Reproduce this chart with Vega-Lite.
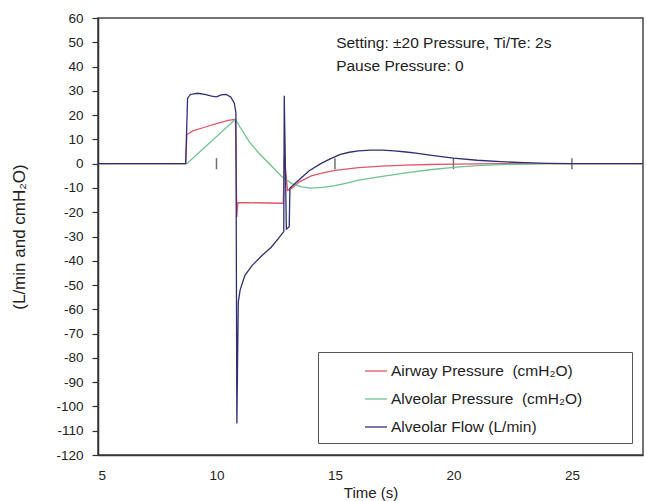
{
  "$schema": "https://vega.github.io/schema/vega-lite/v6.json",
  "width": 545,
  "height": 437,
  "autosize": "none",
  "padding": {"left": 98, "top": 18, "right": 4, "bottom": 46},
  "background": "white",
  "config": {
    "font": "Liberation Sans",
    "view": {"stroke": "#444", "strokeWidth": 1.5},
    "axis": {"labelColor": "#222", "titleColor": "#222", "labelFontSize": 13.5, "titleFontSize": 15, "titleFontWeight": "normal", "grid": false, "domainColor": "#333", "domainWidth": 1.5, "tickColor": "#333", "tickWidth": 1.2, "labelOverlap": false}
  },
  "datasets": {
    "series": [
      {"t": 5, "v": 0, "s": "Airway Pressure  (cmH₂O)"},
      {"t": 8.7, "v": 0, "s": "Airway Pressure  (cmH₂O)"},
      {"t": 8.75, "v": 12, "s": "Airway Pressure  (cmH₂O)"},
      {"t": 9.0, "v": 13.5, "s": "Airway Pressure  (cmH₂O)"},
      {"t": 9.5, "v": 15, "s": "Airway Pressure  (cmH₂O)"},
      {"t": 10.0, "v": 16.5, "s": "Airway Pressure  (cmH₂O)"},
      {"t": 10.5, "v": 17.8, "s": "Airway Pressure  (cmH₂O)"},
      {"t": 10.8, "v": 18.3, "s": "Airway Pressure  (cmH₂O)"},
      {"t": 10.86, "v": -22, "s": "Airway Pressure  (cmH₂O)"},
      {"t": 10.9, "v": -16, "s": "Airway Pressure  (cmH₂O)"},
      {"t": 12.82, "v": -16.3, "s": "Airway Pressure  (cmH₂O)"},
      {"t": 12.86, "v": 3, "s": "Airway Pressure  (cmH₂O)"},
      {"t": 13.0, "v": -11, "s": "Airway Pressure  (cmH₂O)"},
      {"t": 13.2, "v": -10, "s": "Airway Pressure  (cmH₂O)"},
      {"t": 13.5, "v": -7.5, "s": "Airway Pressure  (cmH₂O)"},
      {"t": 14.0, "v": -5, "s": "Airway Pressure  (cmH₂O)"},
      {"t": 14.5, "v": -3.8, "s": "Airway Pressure  (cmH₂O)"},
      {"t": 15.0, "v": -2.8, "s": "Airway Pressure  (cmH₂O)"},
      {"t": 16.0, "v": -1.6, "s": "Airway Pressure  (cmH₂O)"},
      {"t": 17.0, "v": -1, "s": "Airway Pressure  (cmH₂O)"},
      {"t": 18.0, "v": -0.6, "s": "Airway Pressure  (cmH₂O)"},
      {"t": 19.0, "v": -0.35, "s": "Airway Pressure  (cmH₂O)"},
      {"t": 20.0, "v": -0.2, "s": "Airway Pressure  (cmH₂O)"},
      {"t": 21.0, "v": -0.1, "s": "Airway Pressure  (cmH₂O)"},
      {"t": 22.0, "v": 0, "s": "Airway Pressure  (cmH₂O)"},
      {"t": 28.0, "v": 0, "s": "Airway Pressure  (cmH₂O)"},

      {"t": 5, "v": 0, "s": "Alveolar Pressure  (cmH₂O)"},
      {"t": 8.75, "v": 0, "s": "Alveolar Pressure  (cmH₂O)"},
      {"t": 10.8, "v": 18.3, "s": "Alveolar Pressure  (cmH₂O)"},
      {"t": 11.0, "v": 15, "s": "Alveolar Pressure  (cmH₂O)"},
      {"t": 11.4, "v": 8.8, "s": "Alveolar Pressure  (cmH₂O)"},
      {"t": 11.8, "v": 4.2, "s": "Alveolar Pressure  (cmH₂O)"},
      {"t": 12.2, "v": 0.3, "s": "Alveolar Pressure  (cmH₂O)"},
      {"t": 12.75, "v": -5.3, "s": "Alveolar Pressure  (cmH₂O)"},
      {"t": 13.2, "v": -8.3, "s": "Alveolar Pressure  (cmH₂O)"},
      {"t": 13.6, "v": -9.6, "s": "Alveolar Pressure  (cmH₂O)"},
      {"t": 14.0, "v": -10.1, "s": "Alveolar Pressure  (cmH₂O)"},
      {"t": 14.5, "v": -9.8, "s": "Alveolar Pressure  (cmH₂O)"},
      {"t": 15.0, "v": -9.0, "s": "Alveolar Pressure  (cmH₂O)"},
      {"t": 15.5, "v": -8.0, "s": "Alveolar Pressure  (cmH₂O)"},
      {"t": 16.0, "v": -6.8, "s": "Alveolar Pressure  (cmH₂O)"},
      {"t": 17.0, "v": -5.2, "s": "Alveolar Pressure  (cmH₂O)"},
      {"t": 18.0, "v": -3.8, "s": "Alveolar Pressure  (cmH₂O)"},
      {"t": 19.0, "v": -2.5, "s": "Alveolar Pressure  (cmH₂O)"},
      {"t": 20.0, "v": -1.5, "s": "Alveolar Pressure  (cmH₂O)"},
      {"t": 21.0, "v": -0.8, "s": "Alveolar Pressure  (cmH₂O)"},
      {"t": 22.0, "v": -0.4, "s": "Alveolar Pressure  (cmH₂O)"},
      {"t": 23.0, "v": -0.2, "s": "Alveolar Pressure  (cmH₂O)"},
      {"t": 24.0, "v": 0, "s": "Alveolar Pressure  (cmH₂O)"},
      {"t": 28.0, "v": 0, "s": "Alveolar Pressure  (cmH₂O)"},

      {"t": 5, "v": 0, "s": "Alveolar Flow (L/min)"},
      {"t": 8.7, "v": 0, "s": "Alveolar Flow (L/min)"},
      {"t": 8.78, "v": 27, "s": "Alveolar Flow (L/min)"},
      {"t": 8.9, "v": 28.5, "s": "Alveolar Flow (L/min)"},
      {"t": 9.2, "v": 29, "s": "Alveolar Flow (L/min)"},
      {"t": 9.5, "v": 28.5, "s": "Alveolar Flow (L/min)"},
      {"t": 9.8, "v": 27.8, "s": "Alveolar Flow (L/min)"},
      {"t": 10.0, "v": 27.5, "s": "Alveolar Flow (L/min)"},
      {"t": 10.2, "v": 28.3, "s": "Alveolar Flow (L/min)"},
      {"t": 10.4, "v": 28.5, "s": "Alveolar Flow (L/min)"},
      {"t": 10.6, "v": 27.5, "s": "Alveolar Flow (L/min)"},
      {"t": 10.75, "v": 25, "s": "Alveolar Flow (L/min)"},
      {"t": 10.82, "v": 21, "s": "Alveolar Flow (L/min)"},
      {"t": 10.86, "v": -107, "s": "Alveolar Flow (L/min)"},
      {"t": 10.92, "v": -57, "s": "Alveolar Flow (L/min)"},
      {"t": 11.0, "v": -52, "s": "Alveolar Flow (L/min)"},
      {"t": 11.2, "v": -46, "s": "Alveolar Flow (L/min)"},
      {"t": 11.5, "v": -42, "s": "Alveolar Flow (L/min)"},
      {"t": 11.9, "v": -38, "s": "Alveolar Flow (L/min)"},
      {"t": 12.3, "v": -34.5, "s": "Alveolar Flow (L/min)"},
      {"t": 12.6, "v": -31, "s": "Alveolar Flow (L/min)"},
      {"t": 12.84, "v": -28, "s": "Alveolar Flow (L/min)"},
      {"t": 12.86, "v": 28, "s": "Alveolar Flow (L/min)"},
      {"t": 12.95, "v": -27, "s": "Alveolar Flow (L/min)"},
      {"t": 13.07, "v": -26, "s": "Alveolar Flow (L/min)"},
      {"t": 13.1, "v": -10, "s": "Alveolar Flow (L/min)"},
      {"t": 13.5, "v": -6.5, "s": "Alveolar Flow (L/min)"},
      {"t": 13.9, "v": -3, "s": "Alveolar Flow (L/min)"},
      {"t": 14.4, "v": 0, "s": "Alveolar Flow (L/min)"},
      {"t": 14.8, "v": 2, "s": "Alveolar Flow (L/min)"},
      {"t": 15.2, "v": 3.7, "s": "Alveolar Flow (L/min)"},
      {"t": 15.6, "v": 4.7, "s": "Alveolar Flow (L/min)"},
      {"t": 16.0, "v": 5.3, "s": "Alveolar Flow (L/min)"},
      {"t": 16.5, "v": 5.6, "s": "Alveolar Flow (L/min)"},
      {"t": 17.0, "v": 5.6, "s": "Alveolar Flow (L/min)"},
      {"t": 17.5, "v": 5.3, "s": "Alveolar Flow (L/min)"},
      {"t": 18.0, "v": 4.8, "s": "Alveolar Flow (L/min)"},
      {"t": 18.5, "v": 4.2, "s": "Alveolar Flow (L/min)"},
      {"t": 19.0, "v": 3.5, "s": "Alveolar Flow (L/min)"},
      {"t": 19.5, "v": 2.9, "s": "Alveolar Flow (L/min)"},
      {"t": 20.0, "v": 2.3, "s": "Alveolar Flow (L/min)"},
      {"t": 21.0, "v": 1.4, "s": "Alveolar Flow (L/min)"},
      {"t": 22.0, "v": 0.8, "s": "Alveolar Flow (L/min)"},
      {"t": 23.0, "v": 0.4, "s": "Alveolar Flow (L/min)"},
      {"t": 24.0, "v": 0.15, "s": "Alveolar Flow (L/min)"},
      {"t": 25.0, "v": 0.05, "s": "Alveolar Flow (L/min)"},
      {"t": 26.0, "v": 0, "s": "Alveolar Flow (L/min)"},
      {"t": 28.0, "v": 0, "s": "Alveolar Flow (L/min)"}
    ],
    "zeroTicks": [{"t": 10}, {"t": 15}, {"t": 20}, {"t": 25}],
    "notes": [
      {"t": 15.05, "v": 49.5, "label": "Setting: ±20 Pressure, Ti/Te: 2s"},
      {"t": 15.05, "v": 40.3, "label": "Pause Pressure: 0"}
    ]
  },
  "layer": [
    {
      "mark": {"type": "rule", "color": "#666", "strokeWidth": 2},
      "encoding": {
        "y": {
          "datum": 0, "type": "quantitative",
          "scale": {"domain": [-120, 60], "nice": false},
          "axis": {"title": "(L/min and cmH₂O)", "titleFontSize": 17, "values": [60, 50, 40, 30, 20, 10, 0, -10, -20, -30, -40, -50, -60, -70, -80, -90, -100, -110, -120], "tickCount": 40, "labelExpr": "'' + datum.value", "labelOverlap": false, "labelBound": false, "tickSize": 6, "labelPadding": 9, "titlePadding": 27}
        }
      }
    },
    {
      "data": {"name": "zeroTicks"},
      "mark": {"type": "tick", "orient": "vertical", "color": "#333", "size": 11, "thickness": 1.5},
      "encoding": {
        "x": {
          "field": "t", "type": "quantitative",
          "scale": {"domain": [5, 28], "nice": false, "zero": false},
          "axis": {"title": "Time (s)", "values": [5, 10, 15, 20, 25], "tickCount": 10, "ticks": false, "labelPadding": 13, "titlePadding": 4, "labelOverlap": false}
        },
        "y": {"datum": 0, "type": "quantitative"}
      }
    },
    {
      "data": {"name": "series"},
      "mark": {"type": "line", "strokeWidth": 1.3, "interpolate": "linear"},
      "encoding": {
        "x": {"field": "t", "type": "quantitative"},
        "y": {"field": "v", "type": "quantitative"},
        "color": {
          "field": "s", "type": "nominal",
          "scale": {
            "domain": ["Airway Pressure  (cmH₂O)", "Alveolar Pressure  (cmH₂O)", "Alveolar Flow (L/min)"],
            "range": ["#e0566c", "#6fc390", "#2f2f72"]
          },
          "legend": {
            "title": "\u2800",
            "titleOrient": "right",
            "titlePadding": 32,
            "titleFontSize": 15,
            "orient": "none",
            "legendX": 220,
            "legendY": 334,
            "strokeColor": "#555",
            "fillColor": "white",
            "padding": 7,
            "symbolType": "stroke",
            "symbolSize": 480,
            "symbolStrokeWidth": 1.3,
            "symbolOffset": 39,
            "labelOffset": 3,
            "labelFontSize": 15.5,
            "labelColor": "#222",
            "labelLimit": 400,
            "rowPadding": 7,
            "labelExpr": "replace(datum.label, '  ', '\u00a0 ')"
          }
        },
        "order": {"value": 0}
      }
    },
    {
      "data": {"name": "notes"},
      "mark": {"type": "text", "align": "left", "baseline": "middle", "fontSize": 15.5, "color": "#222"},
      "encoding": {
        "x": {"field": "t", "type": "quantitative"},
        "y": {"field": "v", "type": "quantitative"},
        "text": {"field": "label"}
      }
    }
  ]
}
